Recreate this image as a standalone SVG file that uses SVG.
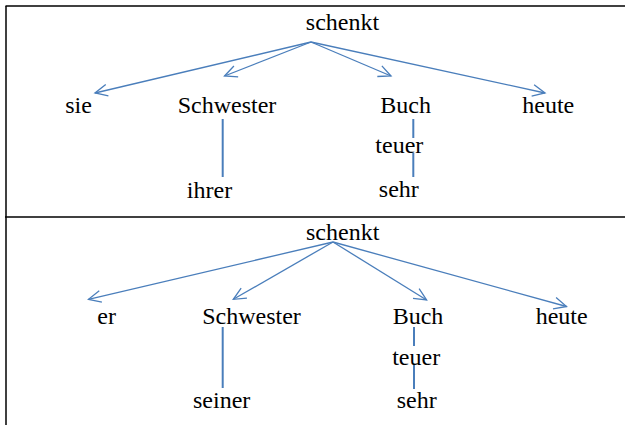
<svg xmlns="http://www.w3.org/2000/svg" width="625" height="425" viewBox="0 0 625 425">
<defs>
<style>
.w{font-size:24px;fill:#000;text-anchor:middle}
.a{stroke:#4a7ebb;stroke-width:1.3;fill:none}
.v{stroke:#4a7ebb;stroke-width:2;fill:none}
.f{stroke:#000;stroke-width:1.5;fill:none}
</style>
<marker id="ah" markerUnits="userSpaceOnUse" markerWidth="16" markerHeight="16" viewBox="-14 -8 16 16" refX="0" refY="0" orient="auto">
<path d="M-12.4,-5.8 L0,0 L-12.4,5.8" stroke="#4a7ebb" stroke-width="1.3" fill="none"/>
</marker>
</defs>
<rect width="625" height="425" fill="#fff"/>
<g id="frame">
<line class="f" x1="5.5" y1="6" x2="625" y2="6"/>
<line class="f" x1="6" y1="6" x2="6" y2="425"/>
<line class="f" x1="5" y1="217" x2="625" y2="217"/>
</g>
<g id="connectors">
<line class="a" x1="311" y1="42" x2="95" y2="93" marker-end="url(#ah)"/>
<line class="a" x1="311" y1="42" x2="224.5" y2="76" marker-end="url(#ah)"/>
<line class="a" x1="311" y1="42" x2="391" y2="76" marker-end="url(#ah)"/>
<line class="a" x1="311" y1="42" x2="545" y2="93" marker-end="url(#ah)"/>
<line class="v" x1="222.7" y1="119" x2="222.7" y2="177"/>
<line class="v" x1="413.3" y1="119" x2="413.3" y2="138"/>
<line class="v" x1="413.3" y1="153" x2="413.3" y2="177"/>
<line class="a" x1="333" y1="242" x2="88.5" y2="299.3" marker-end="url(#ah)"/>
<line class="a" x1="333" y1="242" x2="233.3" y2="299.3" marker-end="url(#ah)"/>
<line class="a" x1="333" y1="242" x2="426.6" y2="300" marker-end="url(#ah)"/>
<line class="a" x1="333" y1="242" x2="566.5" y2="306.5" marker-end="url(#ah)"/>
<line class="v" x1="222.7" y1="327" x2="222.7" y2="388"/>
<line class="v" x1="414" y1="327" x2="414" y2="346"/>
<line class="v" x1="414" y1="364" x2="414" y2="389"/>
</g>
<g font-family="Liberation Serif, serif">
<g id="t-schenkt"><text class="w" x="342.5" y="30">schenkt</text></g>
<g id="t-sie"><text class="w" x="78.5" y="113">sie</text></g>
<g id="t-schwester"><text class="w" x="227" y="113">Schwester</text></g>
<g id="t-buch"><text class="w" x="405.7" y="113">Buch</text></g>
<g id="t-heute"><text class="w" x="548.3" y="113">heute</text></g>
<g id="t-ihrer"><text class="w" x="209.5" y="198">ihrer</text></g>
<g id="t-teuer"><text class="w" x="399.3" y="153">teuer</text></g>
<g id="t-sehr"><text class="w" x="398.8" y="197">sehr</text></g>
<g id="b-schenkt"><text class="w" x="342.7" y="240">schenkt</text></g>
<g id="b-er"><text class="w" x="106.7" y="324">er</text></g>
<g id="b-schwester"><text class="w" x="251.5" y="324">Schwester</text></g>
<g id="b-buch"><text class="w" x="418" y="324">Buch</text></g>
<g id="b-heute"><text class="w" x="561.7" y="324">heute</text></g>
<g id="b-seiner"><text class="w" x="221.7" y="408">seiner</text></g>
<g id="b-teuer"><text class="w" x="416.2" y="365">teuer</text></g>
<g id="b-sehr"><text class="w" x="416.7" y="408">sehr</text></g>
</g>
</svg>
